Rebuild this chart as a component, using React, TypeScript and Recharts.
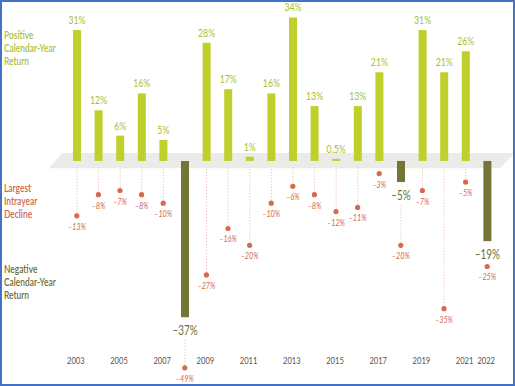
import { ComposedChart, Bar, Line, XAxis, YAxis, ReferenceArea, LabelList, Cell } from 'recharts';

const years = ['2003', '2004', '2005', '2006', '2007', '2008', '2009', '2010', '2011', '2012', '2013', '2014', '2015', '2016', '2017', '2018', '2019', '2020', '2021', '2022'];
const calendarReturns = [31, 12, 6, 16, 5, -37, 28, 17, 1, 16, 34, 13, 0.5, 13, 21, -5, 31, 21, 26, -19];
const intrayearDeclines = [-13, -8, -7, -8, -10, -49, -27, -16, -20, -10, -6, -8, -12, -11, -3, -20, -7, -35, -5, -25];

const FONT = 'Lato, "DejaVu Sans Condensed", sans-serif';
const GREEN = '#bfcf2c';
const GREEN_TEXT = '#a7bf33';
const OLIVE = '#737636';
const OLIVE_TEXT = '#6d7035';
const RED = '#d9684c';
const RED_TEXT = '#d06a50';

// connector starts just under the grey band, or under the label of a negative bar
const data = years.map((year, i) => {
  const r = calendarReturns[i];
  const d = intrayearDeclines[i];
  const start = r < 0 ? r - 5 : -1.5;
  return { year, ret: r, decline: d, conn: start > d + 2 ? [start, d] : null };
});

const pct = (v: number) => `${v < 0 ? '–' : ''}${Math.abs(v)}%`;

// the source uses a condensed face, so squeeze the text horizontally
function Narrow({ x, y, size, color, italic, children }: any) {
  return (
    <text
      transform={`translate(${x},${y}) scale(0.76,1)`}
      textAnchor="middle"
      fontSize={size}
      fill={color}
      fontFamily={FONT}
      fontStyle={italic ? 'italic' : 'normal'}
    >
      {children}
    </text>
  );
}

function Band(props: any) {
  const { x, y, width, height } = props;
  const pts = `${x - 4},${y} ${x + width + 17},${y} ${x + width + 2},${y + height} ${x - 17},${y + height}`;
  return <polygon points={pts} fill="#ebebe8" />;
}

function Connector(props: any) {
  const { x, y, width, height } = props;
  if (height == null) return <g />;
  const cx = x + width / 2;
  return <line x1={cx} x2={cx} y1={y} y2={y + height} stroke="#eeb4a3" strokeWidth={1} strokeDasharray="1 2" />;
}

function ReturnLabel(props: any) {
  const { x, y, width, height, value } = props;
  const top = Math.min(y, y + height);
  const bottom = Math.max(y, y + height);
  const cx = x + width / 2;
  if (value < 0) {
    return (
      <Narrow x={cx} y={bottom + 18} size={13} color={OLIVE_TEXT}>
        {pct(value)}
      </Narrow>
    );
  }
  return (
    <Narrow x={cx} y={top - 6} size={11.5} color={GREEN_TEXT}>
      {pct(value)}
    </Narrow>
  );
}

function DeclineLabel(props: any) {
  const { x, y, value } = props;
  return (
    <Narrow x={x} y={y + 14} size={9.5} color={RED_TEXT} italic>
      {pct(value)}
    </Narrow>
  );
}

function YearTick(props: any) {
  const { x, y, payload } = props;
  const v = String(payload.value);
  if (Number(v) % 2 === 0 && v !== '2022') return <g />;
  return (
    <Narrow x={x - 1} y={y - 16} size={10} color="#555">
      {v}
    </Narrow>
  );
}

const sideLabel = (top: number, color: string, lines: string[]) => (
  <div
    style={{
      position: 'absolute',
      left: 2,
      top,
      color,
      fontFamily: FONT,
      fontSize: 10.5,
      lineHeight: '13px',
      fontWeight: 600,
      transform: 'scaleX(0.8)',
      transformOrigin: 'left top',
      whiteSpace: 'nowrap',
    }}
  >
    {lines.map((l) => (
      <div key={l}>{l}</div>
    ))}
  </div>
);

export default function App() {
  return (
    <div
      style={{
        position: 'relative',
        width: 515,
        height: 386,
        boxSizing: 'border-box',
        border: '2px solid #4472c4',
        background: '#fff',
      }}
    >
      <style>{'body{margin:0}'}</style>
      <ComposedChart width={511} height={382} data={data} margin={{ top: 7, right: 15, bottom: 11, left: 64 }}>
        <XAxis dataKey="year" interval={0} axisLine={false} tickLine={false} height={1} tick={<YearTick />} />
        <XAxis xAxisId="c" dataKey="year" hide />
        <YAxis domain={[-50, 36]} hide allowDataOverflow />
        <ReferenceArea y1={-1.7} y2={1.9} shape={<Band />} />
        <Bar dataKey="conn" xAxisId="c" barSize={8} shape={<Connector />} isAnimationActive={false} />
        <Bar dataKey="ret" barSize={8} isAnimationActive={false}>
          {data.map((d) => (
            <Cell key={d.year} fill={d.ret < 0 ? OLIVE : GREEN} />
          ))}
          <LabelList dataKey="ret" content={<ReturnLabel />} />
        </Bar>
        <Line
          dataKey="decline"
          stroke="none"
          dot={{ r: 2.6, fill: RED, stroke: 'none' }}
          activeDot={false}
          isAnimationActive={false}
        >
          <LabelList dataKey="decline" content={<DeclineLabel />} />
        </Line>
      </ComposedChart>
      {sideLabel(27, '#a9c23a', ['Positive', 'Calendar-Year', 'Return'])}
      {sideLabel(180, '#d1664c', ['Largest', 'Intrayear', 'Decline'])}
      {sideLabel(261, OLIVE_TEXT, ['Negative', 'Calendar-Year', 'Return'])}
    </div>
  );
}
